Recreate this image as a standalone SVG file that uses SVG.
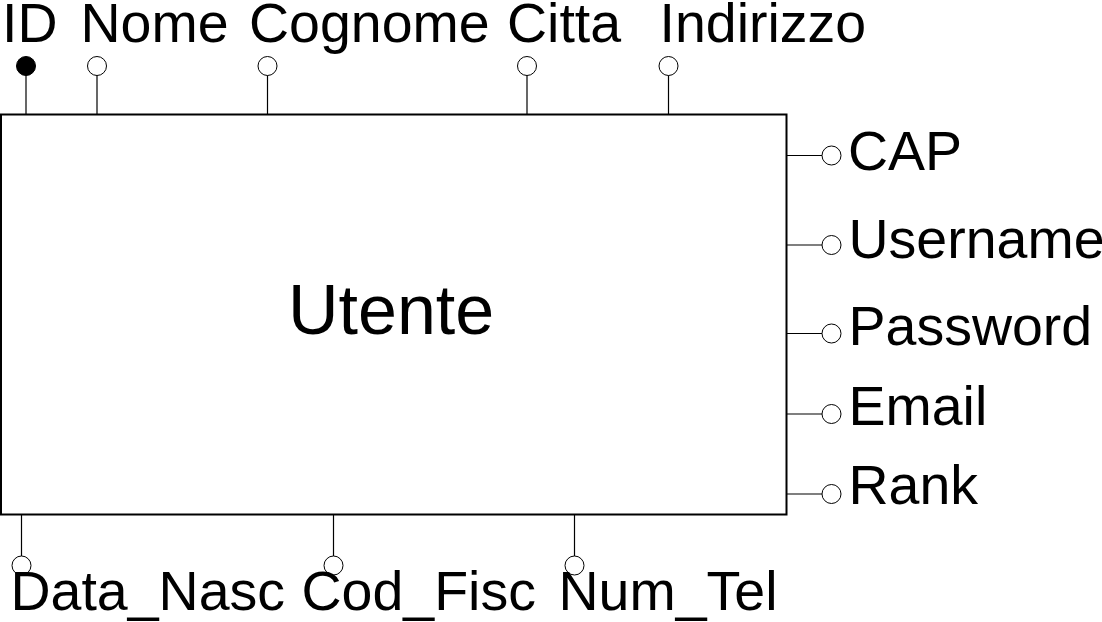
<svg xmlns="http://www.w3.org/2000/svg" width="1102" height="622" viewBox="0 0 1102 622">
<style>
text{font-family:"Liberation Sans",Arial,Helvetica,sans-serif;fill:#000}
.lbl{font-size:55.5px}
.ent{font-size:70px}
.ln{stroke:#000;stroke-width:1.2;fill:none}
.att{fill:#fff;stroke:#000;stroke-width:1}
.key{fill:#000;stroke:#000;stroke-width:1}
</style>
<rect width="1102" height="622" fill="#fff"/>
<g id="connectors">
<line class="ln" x1="26" y1="75" x2="26" y2="114"/>
<line class="ln" x1="97" y1="75" x2="97" y2="114"/>
<line class="ln" x1="267.5" y1="75" x2="267.5" y2="114"/>
<line class="ln" x1="527" y1="75" x2="527" y2="114"/>
<line class="ln" x1="668.5" y1="75" x2="668.5" y2="114"/>
<line class="ln" x1="787" y1="155.5" x2="822" y2="155.5"/>
<line class="ln" x1="787" y1="245" x2="822" y2="245"/>
<line class="ln" x1="787" y1="333.5" x2="822" y2="333.5"/>
<line class="ln" x1="787" y1="414" x2="822" y2="414"/>
<line class="ln" x1="787" y1="494" x2="822" y2="494"/>
<line class="ln" x1="21.5" y1="515" x2="21.5" y2="556"/>
<line class="ln" x1="333.5" y1="515" x2="333.5" y2="556"/>
<line class="ln" x1="574.5" y1="515" x2="574.5" y2="556"/>
</g>
<g id="Utente">
<rect x="1" y="114.5" width="785.5" height="400" fill="#fff" stroke="#000" stroke-width="2"/>
<text class="ent" x="288" y="334">Utente</text>
</g>
<g id="attr-ID"><circle class="key" cx="26" cy="66" r="9.5"/><text class="lbl" x="2" y="42">ID</text></g>
<g id="attr-Nome"><circle class="att" cx="97" cy="66" r="9.5"/><text class="lbl" x="80.5" y="42">Nome</text></g>
<g id="attr-Cognome"><circle class="att" cx="267.5" cy="66" r="9.5"/><text class="lbl" x="249" y="42">Cognome</text></g>
<g id="attr-Citta"><circle class="att" cx="527" cy="66" r="9.5"/><text class="lbl" x="507" y="42">Citta</text></g>
<g id="attr-Indirizzo"><circle class="att" cx="668.5" cy="66" r="9.5"/><text class="lbl" x="659.5" y="42">Indirizzo</text></g>
<g id="attr-CAP"><circle class="att" cx="831.5" cy="155.5" r="9.5"/><text class="lbl" x="848" y="170">CAP</text></g>
<g id="attr-Username"><circle class="att" cx="831.5" cy="245" r="9.5"/><text class="lbl" x="848.5" y="258">Username</text></g>
<g id="attr-Password"><circle class="att" cx="831.5" cy="333.5" r="9.5"/><text class="lbl" x="848.5" y="345">Password</text></g>
<g id="attr-Email"><circle class="att" cx="831.5" cy="414" r="9.5"/><text class="lbl" x="848.5" y="425">Email</text></g>
<g id="attr-Rank"><circle class="att" cx="831.5" cy="494" r="9.5"/><text class="lbl" x="848.5" y="504">Rank</text></g>
<g id="attr-Data_Nasc"><circle class="att" cx="21.5" cy="565.5" r="9.5"/><text class="lbl" x="10.5" y="610">Data_Nasc</text></g>
<g id="attr-Cod_Fisc"><circle class="att" cx="333.5" cy="565.5" r="9.5"/><text class="lbl" x="301.5" y="610">Cod_Fisc</text></g>
<g id="attr-Num_Tel"><circle class="att" cx="574.5" cy="565.5" r="9.5"/><text class="lbl" x="558.5" y="610">Num_Tel</text></g>
</svg>
